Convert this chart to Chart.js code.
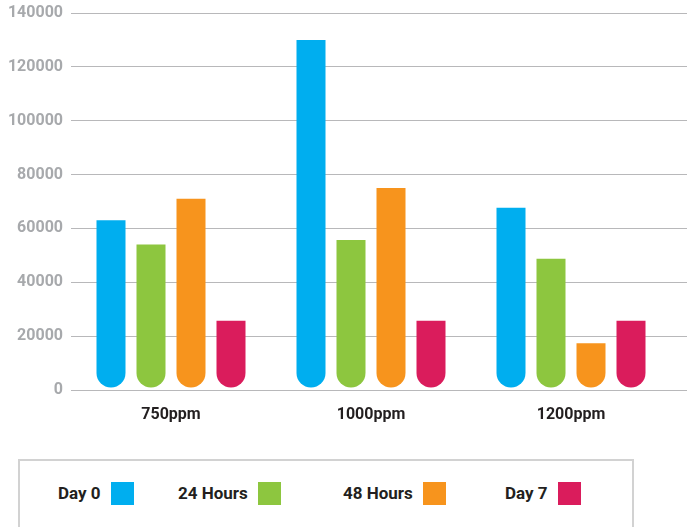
<!DOCTYPE html>
<html>
<head>
<meta charset="utf-8">
<script src="https://cdn.jsdelivr.net/npm/chart.js@4.4.0/dist/chart.umd.min.js"></script>
<style>
  html, body { margin: 0; padding: 0; background: #ffffff; }
  body { width: 687px; height: 527px; position: relative; overflow: hidden; }
  #wrap { position: absolute; left: 0; top: 0; width: 687px; height: 440px; }
  #legend {
    position: absolute; left: 18px; top: 459px; width: 612px; height: 80px;
    border: 2px solid #d2d2d2; border-bottom: none;
  }
  .legend-item { position: absolute; top: 21px; height: 23px; display: flex; align-items: center; }
  .legend-item span.txt {
    font-family: Roboto, sans-serif;
    font-weight: bold; font-size: 17px; color: #231f20; margin-right: 10px; line-height: 23px;
  }
  .legend-item span.box { display: inline-block; width: 23px; height: 23px; }
  .legend-item:nth-child(1) { left: 38px; }
  .legend-item:nth-child(2) { left: 158px; }
  .legend-item:nth-child(3) { left: 323px; }
  .legend-item:nth-child(4) { left: 485px; }
</style>
</head>
<body>
<div id="wrap"><canvas id="chart" width="687" height="440"></canvas></div>
<div id="legend"></div>
<script>
const categories = ["750ppm", "1000ppm", "1200ppm"];
const seriesNames = ["Day 0", "24 Hours", "48 Hours", "Day 7"];
const day0 = [63000, 130000, 67700];
const hours24 = [54000, 55700, 48700];
const hours48 = [71000, 75000, 17400];
const day7 = [25700, 25700, 25700];
const yTicks = [0, 20000, 40000, 60000, 80000, 100000, 120000, 140000];

const colors = ["#00aeef", "#8dc63f", "#f7941d", "#da1c5c"];
const seriesValues = [day0, hours24, hours48, day7];

const FONT = "Roboto, sans-serif";
const GRID = "#b8b8ba";

// Lengthen the horizontal grid lines past the plot area to the canvas edge
const gridExtend = {
  id: "gridExtend",
  beforeDatasetsDraw(chart) {
    const y = chart.scales.y;
    const ctx = chart.ctx;
    ctx.save();
    ctx.strokeStyle = GRID;
    ctx.lineWidth = 1;
    y.ticks.forEach(t => {
      const py = Math.round(y.getPixelForValue(t.value) - 0.5) + 0.5;
      ctx.beginPath();
      ctx.moveTo(chart.chartArea.right, py);
      ctx.lineTo(chart.width, py);
      ctx.stroke();
    });
    ctx.restore();
  }
};

const datasets = seriesNames.map((name, i) => ({
  label: name,
  data: seriesValues[i],
  backgroundColor: colors[i],
  borderWidth: 0,
  borderSkipped: false,
  borderRadius: { topLeft: 0, topRight: 0, bottomLeft: 15, bottomRight: 15 },
  base: 900,
  categoryPercentage: 0.8,
  barPercentage: 0.725
}));

const chart = new Chart(document.getElementById("chart"), {
  type: "bar",
  data: { labels: categories, datasets },
  plugins: [gridExtend],
  options: {
    responsive: false,
    devicePixelRatio: 1,
    animation: false,
    layout: { padding: { top: 13, right: 16, bottom: 0, left: 0 } },
    plugins: { legend: { display: false }, tooltip: { enabled: false } },
    scales: {
      x: {
        grid: { display: false, drawTicks: false },
        border: { display: false },
        ticks: { color: "#231f20", font: { family: FONT, size: 16, weight: "bold" }, padding: 15 },
        afterFit(scale) { scale.height = 50; scale.paddingLeft = 0; scale.paddingRight = 0; }
      },
      y: {
        min: 0, max: 140000,
        afterBuildTicks(scale) { scale.ticks = yTicks.map(v => ({ value: v })); },
        grid: { color: GRID, lineWidth: 1, drawTicks: false },
        border: { display: false },
        ticks: {
          color: "#a7a9ac", font: { family: FONT, size: 16, weight: "bold" }, padding: 8,
          callback: v => String(v)
        },
        afterFit(scale) { scale.width = 71; scale.paddingTop = 0; scale.paddingBottom = 0; }
      }
    }
  }
});

// Legend built from the chart's datasets: label text followed by a swatch
const legend = document.getElementById("legend");
chart.data.datasets.forEach(ds => {
  const item = document.createElement("div");
  item.className = "legend-item";
  const txt = document.createElement("span");
  txt.className = "txt";
  txt.textContent = ds.label;
  const box = document.createElement("span");
  box.className = "box";
  box.style.background = ds.backgroundColor;
  item.appendChild(txt);
  item.appendChild(box);
  legend.appendChild(item);
});
</script>
</body>
</html>
